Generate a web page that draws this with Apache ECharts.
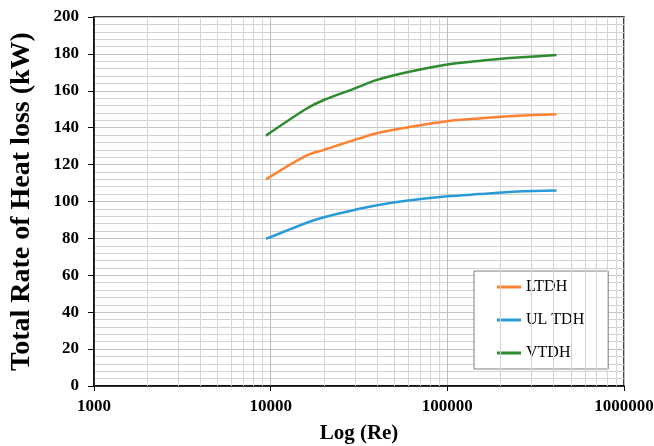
<!DOCTYPE html>
<html>
<head>
<meta charset="utf-8">
<script src="https://cdn.jsdelivr.net/npm/echarts@6/dist/echarts.min.js"></script>
<style>
html, body { margin: 0; padding: 0; background: #fff; }
#main { width: 654px; height: 446px; }
</style>
</head>
<body>
<div id="main"></div>
<script>
var chart = echarts.init(document.getElementById('main'));

// Reynolds numbers (x) and heat loss (kW)
var re = [9400, 16000, 20000, 30000, 40000, 60000, 100000, 150000, 250000, 415000];
var ltdh = [112, 125, 128, 133.5, 137, 140.2, 143.5, 145, 146.5, 147.3];
var ultdh = [79.7, 88.5, 91.5, 95.5, 98, 100.5, 102.8, 104, 105.4, 105.9];
var vtdh = [135.7, 150.4, 155, 161.3, 165.9, 170.2, 174.3, 176.2, 178, 179.4];

// minor log grid lines (2..9 in each decade)
var minorX = [];
for (var d = 1000; d < 1000000; d *= 10) {
    for (var k = 2; k <= 9; k++) minorX.push(d * k);
}

var font = '"Liberation Serif", "Times New Roman", serif';

function pairs(ys) {
    return re.map(function (x, i) { return [x, ys[i]]; });
}

function line(name, color, ys) {
    return {
        name: name,
        type: 'line',
        data: pairs(ys),
        symbol: 'none',
        smooth: 0.3,
        z: 5,
        lineStyle: { color: color, width: 2.5 },
        itemStyle: { color: color }
    };
}

var series = [
    line('LTDH', '#FF8232', ltdh),
    line('UL TDH', '#2A9AD8', ultdh),
    line('VTDH', '#2E8B30', vtdh)
];
// minor vertical grid lines
series.push({
    type: 'line',
    data: [],
    silent: true,
    z: 1,
    markLine: {
        silent: true,
        symbol: 'none',
        label: { show: false },
        lineStyle: { color: '#d4d4d4', width: 1, type: 'solid' },
        data: minorX.map(function (v) { return { xAxis: v }; })
    }
});

var option = {
    animation: false,
    backgroundColor: '#fff',
    grid: {
        left: 94, right: 30, top: 17, bottom: 60,
        outerBoundsMode: 'none',
        containLabel: false,
        show: true,
        borderColor: '#000',
        borderWidth: 1.5
    },
    legend: {
        orient: 'vertical',
        left: 474,
        top: 271,
        data: ['LTDH', 'UL TDH', 'VTDH'],
        icon: 'rect',
        backgroundColor: '#fff',
        borderColor: '#7f7f7f',
        borderWidth: 1,
        padding: [8, 24, 8, 23],
        itemWidth: 24,
        itemHeight: 3,
        itemGap: 17,
        textStyle: { fontFamily: font, fontSize: 16, color: '#000', lineHeight: 16 }
    },
    xAxis: {
        type: 'log',
        logBase: 10,
        min: 1000,
        max: 1000000,
        name: 'Log (Re)',
        nameLocation: 'middle',
        nameGap: 37,
        nameTextStyle: { fontFamily: font, fontSize: 21, fontWeight: 'bold', color: '#000' },
        axisLine: { lineStyle: { color: '#000', width: 1.5 } },
        axisTick: { show: true, length: 5, lineStyle: { color: '#000' } },
        axisLabel: {
            fontFamily: font, fontSize: 17, fontWeight: 'bold', color: '#000', margin: 12,
            formatter: function (v) { return String(v); }
        },
        splitLine: { show: true, lineStyle: { color: '#bdbdbd', width: 1 } }
    },
    yAxis: {
        type: 'value',
        min: 0,
        max: 200,
        interval: 20,
        name: 'Total Rate of Heat loss (kW)',
        nameLocation: 'middle',
        nameGap: 58,
        nameTextStyle: { fontFamily: font, fontSize: 28, fontWeight: 'bold', color: '#000' },
        axisLine: { show: true, lineStyle: { color: '#000', width: 1.5 } },
        axisTick: { show: true, length: 6, lineStyle: { color: '#000' } },
        axisLabel: { fontFamily: font, fontSize: 17, fontWeight: 'bold', color: '#000', margin: 15 },
        splitLine: { show: true, lineStyle: { color: '#c4c4c4', width: 1 } },
        minorTick: { show: false, splitNumber: 5 },
        minorSplitLine: { show: true, lineStyle: { color: '#d2d2d2', width: 1 } }
    },
    series: series
};

chart.setOption(option);
</script>
</body>
</html>
